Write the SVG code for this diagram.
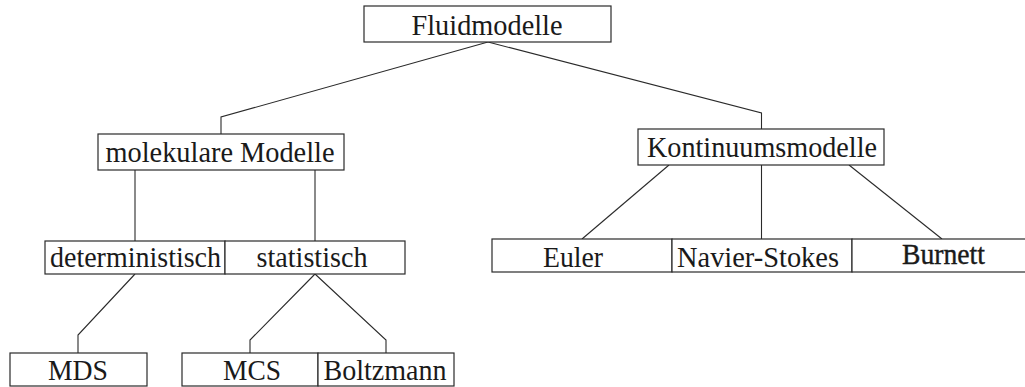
<svg xmlns="http://www.w3.org/2000/svg" width="1025" height="387" viewBox="0 0 1025 387">
<style>
.box{fill:#fff;stroke:#2a2a2a;stroke-width:1.2}
.lbl{font-family:"Liberation Serif","Times New Roman",serif;font-size:30px;fill:#1a1a1a;text-anchor:middle}
.con{fill:none;stroke:#2a2a2a;stroke-width:1.1}
</style>
<rect width="1025" height="387" fill="#fff"/>
<g id="connectors">
<polyline class="con" points="488,42 221,117 221,134"/>
<polyline class="con" points="488,42 761.5,113 761.5,129"/>
<line class="con" x1="135" y1="170" x2="135" y2="241"/>
<line class="con" x1="315" y1="170" x2="315" y2="241"/>
<line class="con" x1="669" y1="165" x2="582" y2="239"/>
<line class="con" x1="761.5" y1="165" x2="761.5" y2="239"/>
<line class="con" x1="849" y1="165" x2="942" y2="239"/>
<polyline class="con" points="135,274 78,335 78,353"/>
<polyline class="con" points="315,274 250,340 250,353"/>
<polyline class="con" points="315,274 386,340 386,353"/>
</g>
<g id="fluidmodelle"><rect class="box" x="364" y="6" width="247" height="36"/><text class="lbl" x="487" y="35" textLength="151" lengthAdjust="spacingAndGlyphs">Fluidmodelle</text></g>
<g id="molekulare"><rect class="box" x="98" y="134" width="246" height="36"/><text class="lbl" x="220" y="162" textLength="229" lengthAdjust="spacingAndGlyphs">molekulare Modelle</text></g>
<g id="kontinuum"><rect class="box" x="638" y="129" width="246" height="36"/><text class="lbl" x="762" y="157" textLength="230" lengthAdjust="spacingAndGlyphs">Kontinuumsmodelle</text></g>
<g id="deterministisch"><rect class="box" x="45" y="241" width="180" height="33"/><text class="lbl" x="135.5" y="267" textLength="171" lengthAdjust="spacingAndGlyphs">deterministisch</text></g>
<g id="statistisch"><rect class="box" x="225" y="241" width="180" height="33"/><text class="lbl" x="312" y="267" textLength="111" lengthAdjust="spacingAndGlyphs">statistisch</text></g>
<g id="euler"><rect class="box" x="492" y="239" width="180" height="33"/><text class="lbl" x="573" y="267" textLength="60" lengthAdjust="spacingAndGlyphs">Euler</text></g>
<g id="navier"><rect class="box" x="672" y="239" width="180" height="33"/><text class="lbl" x="758" y="267" textLength="162" lengthAdjust="spacingAndGlyphs">Navier-Stokes</text></g>
<g id="burnett"><rect class="box" x="852" y="239" width="182" height="33"/><text class="lbl" x="943.5" y="264" textLength="83" lengthAdjust="spacingAndGlyphs" style="stroke:#1a1a1a;stroke-width:0.4">Burnett</text></g>
<g id="mds"><rect class="box" x="10" y="353" width="137" height="33"/><text class="lbl" x="78" y="380" textLength="60" lengthAdjust="spacingAndGlyphs">MDS</text></g>
<g id="mcs"><rect class="box" x="182" y="353" width="136" height="33"/><text class="lbl" x="252" y="380" textLength="58" lengthAdjust="spacingAndGlyphs">MCS</text></g>
<g id="boltzmann"><rect class="box" x="318" y="353" width="136" height="33"/><text class="lbl" x="385" y="380" textLength="123" lengthAdjust="spacingAndGlyphs">Boltzmann</text></g>
</svg>
